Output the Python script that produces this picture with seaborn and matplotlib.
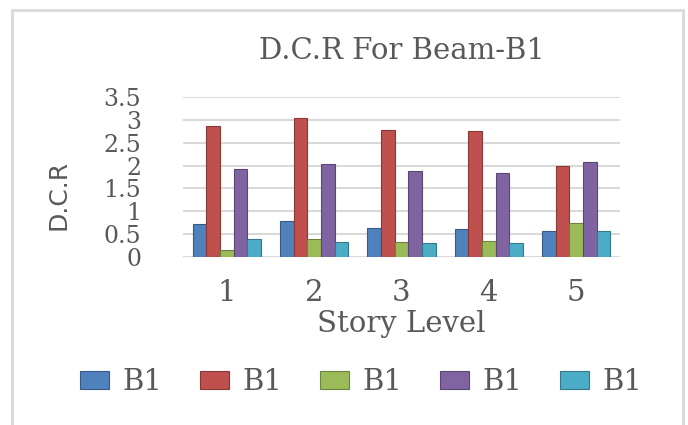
import pandas as pd
import matplotlib
matplotlib.use("Agg")
import matplotlib.pyplot as plt
from matplotlib.patches import Rectangle
import seaborn as sns

# ── Data ─────────────────────────────────────────────────────────────────────
stories = ["1", "2", "3", "4", "5"]
series_keys = ["s1", "s2", "s3", "s4", "s5"]
series_labels = ["B1", "B1", "B1", "B1", "B1"]
s1_vals = [0.73, 0.78, 0.63, 0.62, 0.56]
s2_vals = [2.87, 3.03, 2.78, 2.75, 2.00]
s3_vals = [0.15, 0.39, 0.34, 0.35, 0.74]
s4_vals = [1.93, 2.04, 1.88, 1.84, 2.08]
s5_vals = [0.40, 0.32, 0.30, 0.30, 0.57]
y_ticks = [0, 0.5, 1, 1.5, 2, 2.5, 3, 3.5]
y_ticklabels = ["0", "0.5", "1", "1.5", "2", "2.5", "3", "3.5"]

COLORS = ["#4F81BD", "#C0504D", "#9BBB59", "#8064A2", "#4BACC6"]
TEXT = "#595959"

rows = []
for key, vals in zip(series_keys, [s1_vals, s2_vals, s3_vals, s4_vals, s5_vals]):
    for st, v in zip(stories, vals):
        rows.append({"story": st, "series": key, "dcr": v})
df = pd.DataFrame(rows)

sns.set_theme(style="white")
plt.rcParams["font.family"] = ["DejaVu Serif"]

fig = plt.figure(figsize=(6.88, 4.25), dpi=100)
fig.patch.set_facecolor("white")
fig.patches.append(Rectangle((0.018, -0.02), 0.975, 0.997, transform=fig.transFigure,
                             fill=False, edgecolor="#d9d9d9", linewidth=2))

ax = fig.add_axes([0.266, 0.395, 0.635, 0.377])
sns.barplot(data=df, x="story", y="dcr", hue="series", hue_order=series_keys,
            palette=COLORS, saturation=1, width=0.78, gap=0, ax=ax, legend=True,
            edgecolor="none", linewidth=0)

# darker outline to hint at the 3-D look of the original
for bar in ax.patches:
    fc = bar.get_facecolor()
    bar.set_edgecolor((fc[0] * 0.7, fc[1] * 0.7, fc[2] * 0.7, 1))
    bar.set_linewidth(0.8)

ax.set_ylim(0, 3.5)
ax.set_xlim(-0.5, 4.5)
ax.set_yticks(y_ticks)
ax.set_yticklabels(y_ticklabels)
ax.yaxis.grid(True, color="#d9d9d9", linewidth=1.5)
ax.set_axisbelow(True)
for s in ax.spines.values():
    s.set_visible(False)
ax.tick_params(axis="y", length=0, pad=30, labelsize=17, labelcolor=TEXT)
ax.tick_params(axis="x", length=0, pad=16, labelsize=21, labelcolor=TEXT)

ax.set_title("D.C.R For Beam-B1", fontsize=21, color=TEXT, pad=27)
ax.set_xlabel("Story Level", fontsize=21, color=TEXT, labelpad=2)
ax.set_ylabel("D.C.R", fontsize=18, color=TEXT, family="DejaVu Sans", va="center")
ax.yaxis.set_label_coords(-0.284, 0.39)

handles, _ = ax.get_legend_handles_labels()
ax.get_legend().remove()
fig.legend(handles, series_labels, loc="center", bbox_to_anchor=(0.525, 0.101),
           ncol=5, frameon=False, fontsize=21, labelcolor=TEXT,
           handlelength=1.0, handleheight=0.55, handletextpad=0.45,
           columnspacing=1.3)

fig.savefig("out.png", dpi=100)
